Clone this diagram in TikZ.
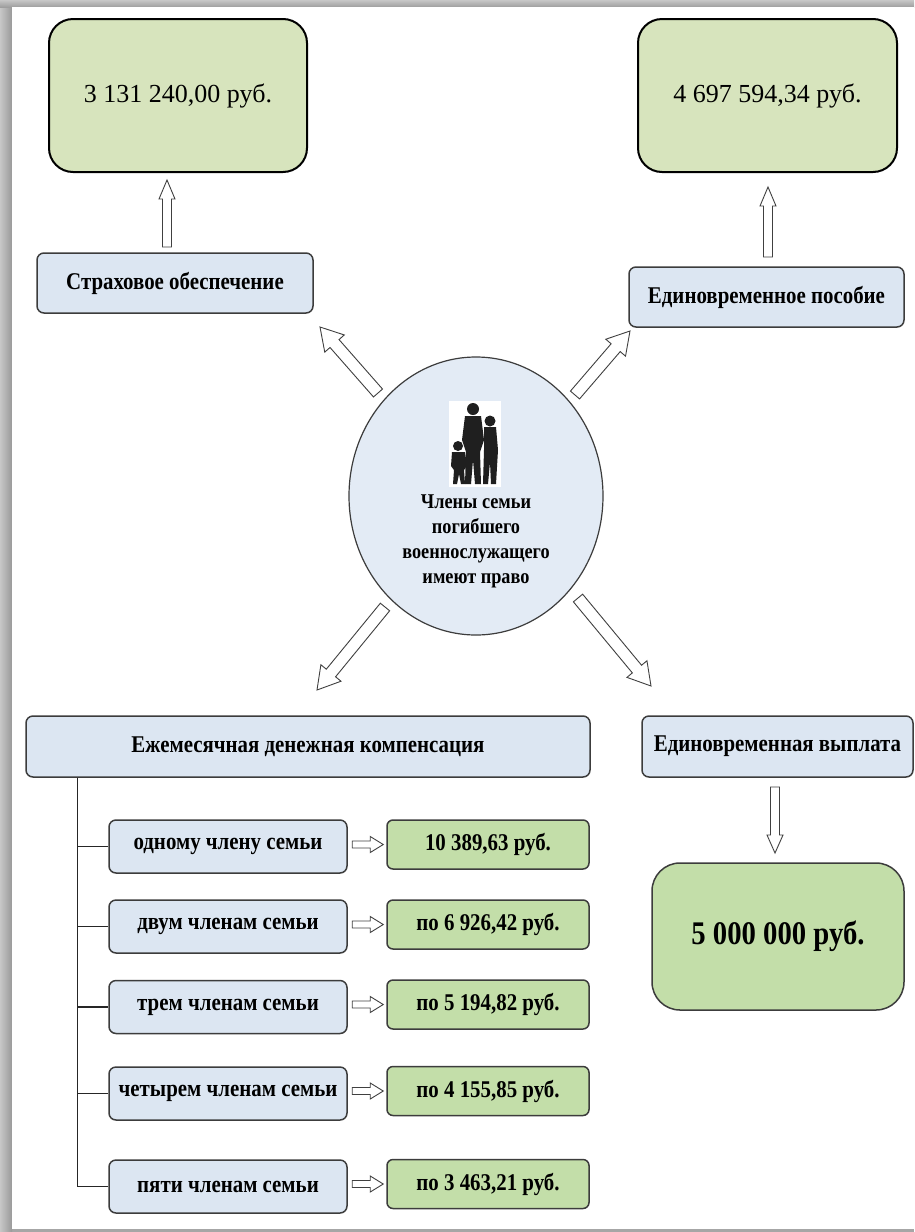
\documentclass[tikz,border=0pt]{standalone}
\usepackage{fontspec}
\setmainfont{Liberation Serif}
\newfontfamily\cbf{Liberation Serif}[FakeStretch=0.87, BoldFont={Liberation Serif Bold}]
\usetikzlibrary{calc,shapes.geometric}
\definecolor{gtop}{HTML}{D7E4BD}
\definecolor{gsm}{HTML}{C3DEA9}
\definecolor{bbox}{HTML}{DCE6F2}
\definecolor{bcirc}{HTML}{E3EBF5}
\definecolor{bord}{HTML}{3C3C3C}
\newcommand\hollowarrow[5]{%
  \path ($(#2)!#5!(#1)$) coordinate (hA);
  \draw[arrowline] ($(#1)!#3!90:(#2)$) -- ($(hA)!#3!90:(#2)$) -- ($(hA)!#4!90:(#2)$)
    -- (#2) -- ($(hA)!#4!-90:(#2)$) -- ($(hA)!#3!-90:(#2)$) -- ($(#1)!#3!-90:(#2)$) -- cycle;
}
\tikzset{
  arrowline/.style={draw=black!75, fill=white, line width=0.9pt, line join=miter},
  topbox/.style={draw=black, line width=2pt, fill=gtop, rounded corners=24pt,
    font=\fontsize{26}{30}\selectfont},
  labelbox/.style={draw=bord, line width=1.5pt, fill=bbox, rounded corners=7pt,
    font=\cbf\bfseries\fontsize{24}{28}\selectfont},
  subbox/.style={labelbox, minimum width=238pt, minimum height=53pt},
  sumbox/.style={draw=bord, line width=1.5pt, fill=gsm, rounded corners=6pt,
    minimum width=202pt, minimum height=49pt, font=\cbf\bfseries\fontsize{24}{28}\selectfont},
  branch/.style={draw=black!85, line width=1.5pt},
}
\begin{document}
\begin{tikzpicture}[x=1pt,y=-1pt]
\useasboundingbox (0,0) rectangle (914,1232);
% frame
\fill[black!35] (0,0) rectangle (914,1232);
\shade[left color=black!22, right color=black!40] (0,0) rectangle (12,1232);
\shade[top color=black!22, bottom color=black!38] (0,0) rectangle (914,7);
\fill[white] (12,7) rectangle (914,1229);

% top boxes
\node[topbox, minimum width=258pt, minimum height=153pt] (g1) at (178,95.5) {\raisebox{-3pt}{3 131 240,00 руб.}};
\node[topbox, minimum width=259pt, minimum height=153pt] (g2) at (767.5,95.5) {\raisebox{-3pt}{4 697 594,34 руб.}};

\node[labelbox, minimum width=276pt, minimum height=60pt] (b1) at (175,283) {Страховое обеспечение};
\node[labelbox, minimum width=275pt, minimum height=60pt] (b2) at (766.5,297) {Единовременное пособие};

% circle
\node[ellipse, draw=bord, line width=1.2pt, fill=bcirc, minimum width=254pt, minimum height=278pt, inner sep=0pt] (c) at (476,496) {};
\node[align=center, font=\cbf\bfseries\fontsize{21}{25}\selectfont] (ct) at (476,541) {Члены семьи\\погибшего\\военнослужащего\\имеют право};
% silhouette
\fill[white] (449,401) rectangle (501,487);
\fill[black!88] (473,409) circle (6pt);
\fill[black!88] (465,416) -- (481,416) -- (484,440) -- (480,452) -- (481,484) -- (475,484) -- (473,460) -- (471,484) -- (465,484) -- (466,452) -- (462,440) -- cycle;
\fill[black!88] (490,421) circle (5.5pt);
\fill[black!88] (484,427) -- (496,427) -- (498,450) -- (496,484) -- (491,484) -- (490,462) -- (488,484) -- (483,484) -- (484,450) -- cycle;
\fill[black!88] (458,446) circle (5pt);
\fill[black!88] (452,452) -- (465,452) -- (467,466) -- (464,470) -- (465,484) -- (461,484) -- (459,474) -- (457,484) -- (453,484) -- (454,470) -- (451,466) -- cycle;

% lower boxes
\node[labelbox, minimum width=564pt, minimum height=61pt] (ekm) at (308,746.5) {Ежемесячная денежная компенсация};
\node[labelbox, minimum width=271pt, minimum height=61pt] (ev) at (777.5,746.5) {Единовременная выплата};
\node[draw=bord, line width=1.5pt, fill=gsm, rounded corners=28pt, minimum width=252pt, minimum height=147pt,
  font=\cbf\bfseries\fontsize{33}{38}\selectfont] (big) at (778,936.5) {5 000 000 руб.};

\node[subbox] (s1) at (228,846.5) {одному члену семьи};
\node[subbox] (s2) at (228,926.5) {двум членам семьи};
\node[subbox] (s3) at (228,1007) {трем членам семьи};
\node[subbox] (s4) at (228,1093.5) {четырем членам семьи};
\node[subbox] (s5) at (228,1186.5) {пяти членам семьи};

\node[sumbox] (m1) at (488,844.5) {10 389,63 руб.};
\node[sumbox] (m2) at (488,924.5) {по 6 926,42 руб.};
\node[sumbox] (m3) at (488,1004.5) {по 5 194,82 руб.};
\node[sumbox] (m4) at (488,1091) {по 4 155,85 руб.};
\node[sumbox] (m5) at (488,1184) {по 3 463,21 руб.};

% branch lines
\coordinate (trunk) at ($(ekm.south west)+(52,0)$);
\draw[branch] (trunk) |- (s5.west);
\foreach \s in {s1,s2,s3,s4}{\draw[branch] (trunk |- \s.west) -- (\s.west);}

% arrows
\coordinate (a1s) at (167,247); \coordinate (a1e) at (167,180);
\hollowarrow{a1s}{a1e}{4.5pt}{8pt}{19pt}
\coordinate (a2s) at (768,257); \coordinate (a2e) at (768,187);
\hollowarrow{a2s}{a2e}{4.5pt}{8pt}{19pt}
\coordinate (a3s) at (775,787); \coordinate (a3e) at (775,853);
\hollowarrow{a3s}{a3e}{4.5pt}{8pt}{18pt}

\coordinate (d1s) at (378,393); \coordinate (d1e) at (320,327);
\hollowarrow{d1s}{d1e}{6pt}{13pt}{22pt}
\coordinate (d2s) at (575,395); \coordinate (d2e) at (630,331);
\hollowarrow{d2s}{d2e}{6pt}{13pt}{22pt}
\coordinate (d3s) at (385,607); \coordinate (d3e) at (317,690);
\hollowarrow{d3s}{d3e}{6pt}{13pt}{22pt}
\coordinate (d4s) at (578,598); \coordinate (d4e) at (651,686);
\hollowarrow{d4s}{d4e}{6pt}{13pt}{22pt}

\foreach \i in {1,...,5}{
  \coordinate (hs\i) at ($(m\i.west)+(-34,0)$);
  \coordinate (he\i) at ($(m\i.west)+(-3,0)$);
  \hollowarrow{hs\i}{he\i}{3.5pt}{8pt}{13pt}
}
\end{tikzpicture}
\end{document}
